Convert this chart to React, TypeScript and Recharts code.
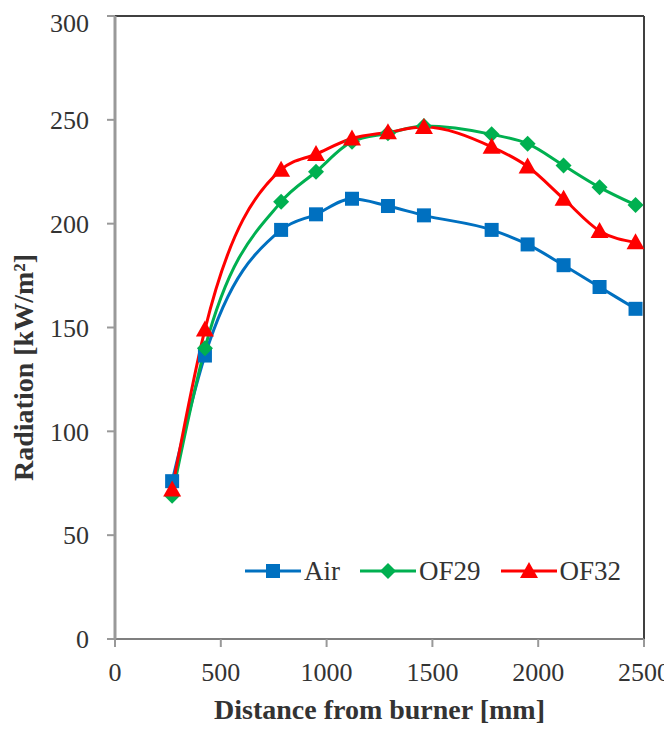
import { LineChart, Line, XAxis, YAxis, ReferenceLine, Label } from 'recharts';

const distances = [270, 425, 785, 950, 1120, 1290, 1460, 1780, 1950, 2120, 2290, 2460];
const airValues = [76, 136.5, 197, 204.5, 212, 208.5, 204, 197, 190, 180, 169.5, 159];
const of29Values = [69, 140, 210.5, 225, 239.5, 243.5, 247, 243, 238.5, 228, 217.5, 209];
const of32Values = [72, 149, 226, 233.5, 241, 244, 246.5, 237, 227.5, 212, 196.5, 191];
const xTicks = [0, 500, 1000, 1500, 2000, 2500];
const yTicks = [0, 50, 100, 150, 200, 250, 300];

const SERIES = [
  { key: 'Air', color: '#0070C0', shape: 'square' },
  { key: 'OF29', color: '#00B050', shape: 'diamond' },
  { key: 'OF32', color: '#FF0000', shape: 'triangle' },
];

const FONT = '"Liberation Serif", "DejaVu Serif", serif';
const TEXT = '#333333';

const data = distances.map((d, i) => ({
  x: d,
  Air: airValues[i],
  OF29: of29Values[i],
  OF32: of32Values[i],
}));

function Marker({ shape, cx, cy, color }: { shape: string; cx: number; cy: number; color: string }) {
  if (shape === 'square') {
    return <rect x={cx - 7} y={cy - 7} width={14} height={14} fill={color} />;
  }
  if (shape === 'diamond') {
    return <polygon points={`${cx},${cy - 8} ${cx + 8},${cy} ${cx},${cy + 8} ${cx - 8},${cy}`} fill={color} />;
  }
  return <polygon points={`${cx},${cy - 9} ${cx + 9},${cy + 7} ${cx - 9},${cy + 7}`} fill={color} />;
}

// legend drawn as an overlay so it doesn't shrink the plot
function ChartLegend() {
  return (
    <div
      style={{
        position: 'absolute',
        left: 237,
        top: 546,
        display: 'flex',
        alignItems: 'center',
        fontFamily: FONT,
        fontSize: 27,
        color: TEXT,
        lineHeight: '34px',
      }}
    >
      {SERIES.map((s) => (
        <div key={s.key} style={{ display: 'flex', alignItems: 'center', marginRight: 20 }}>
          <svg width={56} height={20} style={{ marginRight: 3 }}>
            <line x1={0} y1={10} x2={56} y2={10} stroke={s.color} strokeWidth={3} />
            <Marker shape={s.shape} cx={28} cy={10} color={s.color} />
          </svg>
          <span>{s.key}</span>
        </div>
      ))}
    </div>
  );
}

export default function App() {
  return (
    <div style={{ width: 664, height: 722, position: 'relative' }}>
      <LineChart width={664} height={722} data={data} margin={{ top: 8, right: 28, bottom: 0, left: 0 }}>
        <XAxis
          dataKey="x"
          type="number"
          domain={[0, 2500]}
          ticks={xTicks}
          tickSize={8}
          tickMargin={16}
          height={91}
          axisLine={{ stroke: '#7f7f7f', strokeWidth: 2 }}
          tickLine={{ stroke: '#999999', strokeWidth: 2 }}
          tick={{ fill: TEXT, fontSize: 26, fontFamily: FONT }}
        >
          <Label
            content={({ viewBox }: any) => (
              <text
                x={viewBox.x + viewBox.width / 2}
                y={viewBox.y + 80}
                textAnchor="middle"
                fill={TEXT}
                fontFamily={FONT}
                fontSize={28}
                fontWeight="bold"
              >
                Distance from burner [mm]
              </text>
            )}
          />
        </XAxis>
        <YAxis
          type="number"
          domain={[0, 300]}
          ticks={yTicks}
          width={107}
          tickSize={8}
          tickMargin={18}
          axisLine={{ stroke: '#999999', strokeWidth: 3 }}
          tickLine={{ stroke: '#999999', strokeWidth: 2 }}
          tick={{ fill: TEXT, fontSize: 26, fontFamily: FONT }}
        >
          <Label
            content={({ viewBox }: any) => {
              const x = viewBox.x + 25;
              const y = viewBox.y + viewBox.height / 2 + 40;
              return (
                <text
                  x={x}
                  y={y}
                  transform={`rotate(-90 ${x} ${y})`}
                  textAnchor="middle"
                  fill={TEXT}
                  fontFamily={FONT}
                  fontSize={28}
                  fontWeight="bold"
                >
                  Radiation [kW/m²]
                </text>
              );
            }}
          />
        </YAxis>
        <ReferenceLine y={300} stroke="#404040" strokeWidth={2} />
        <ReferenceLine x={2500} stroke="#404040" strokeWidth={2} />
        {SERIES.map((s) => (
          <Line
            key={s.key}
            dataKey={s.key}
            type="monotone"
            stroke={s.color}
            strokeWidth={3}
            isAnimationActive={false}
            dot={(p: any) => <Marker key={p.key ?? p.index} shape={s.shape} cx={p.cx} cy={p.cy} color={s.color} />}
            activeDot={false}
          />
        ))}
      </LineChart>
      <ChartLegend />
    </div>
  );
}
